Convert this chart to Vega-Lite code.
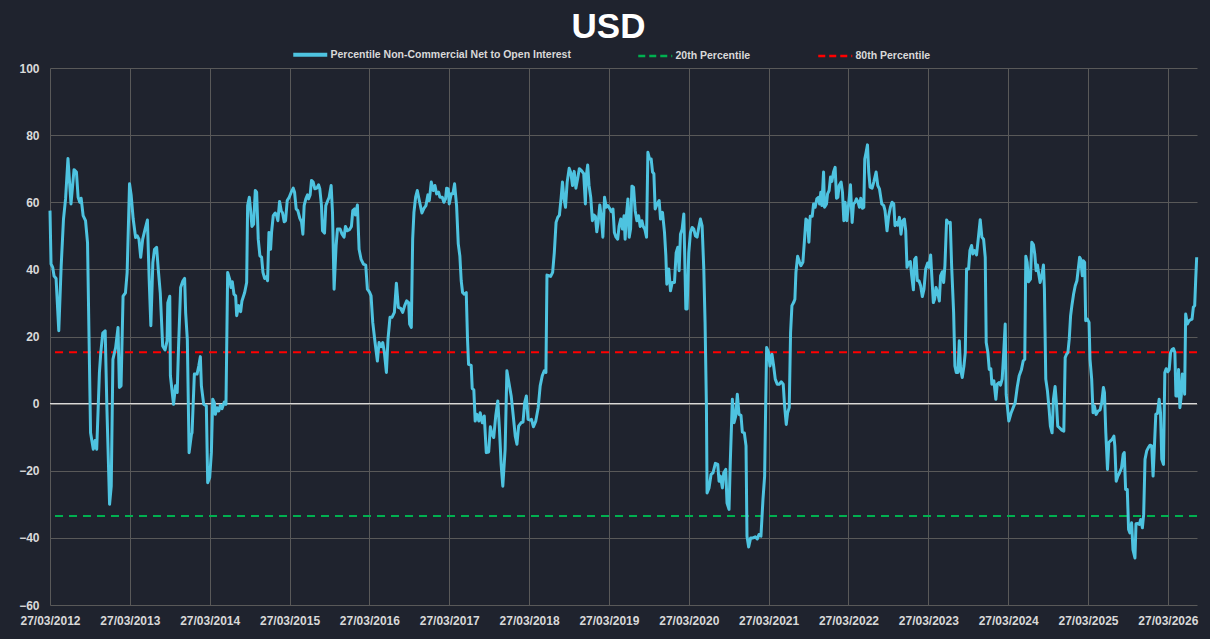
{
  "$schema": "https://vega.github.io/schema/vega-lite/v6.json",
  "width": 1147,
  "height": 537,
  "autosize": {"type": "none"},
  "padding": {"left": 50, "top": 68, "right": 13, "bottom": 34},
  "background": "#1f232e",
  "config": {"view": {"stroke": null}, "font": "Liberation Sans"},
  "title": {
    "text": "USD",
    "font": "Liberation Sans",
    "fontSize": 35,
    "fontWeight": "bold",
    "color": "#ffffff",
    "anchor": "middle",
    "frame": "group",
    "offset": 2,
    "dy": -2,
    "dx": -15
  },
  "datasets": {
    "bands": [
      {"s": "20th Percentile", "v": -33.5},
      {"s": "80th Percentile", "v": 15.3}
    ],
    "cot": [
      {"t":2012.000,"v":57.5},{"t":2012.013,"v":41.6},{"t":2012.034,"v":40.6},{"t":2012.051,"v":38},{"t":2012.076,"v":37.3},
      {"t":2012.110,"v":21.7},{"t":2012.140,"v":41},{"t":2012.169,"v":55},{"t":2012.195,"v":61},{"t":2012.225,"v":73},
      {"t":2012.263,"v":59.5},{"t":2012.301,"v":69.7},{"t":2012.331,"v":69},{"t":2012.352,"v":61.5},{"t":2012.373,"v":60},
      {"t":2012.390,"v":61.2},{"t":2012.415,"v":56},{"t":2012.445,"v":54.5},{"t":2012.470,"v":48},{"t":2012.492,"v":15},
      {"t":2012.508,"v":-8.7},{"t":2012.542,"v":-13.6},{"t":2012.564,"v":-11},{"t":2012.585,"v":-13.6},{"t":2012.619,"v":9.3},
      {"t":2012.636,"v":15.2},{"t":2012.661,"v":21},{"t":2012.691,"v":21.7},{"t":2012.712,"v":-0.7},{"t":2012.746,"v":-30},
      {"t":2012.767,"v":-24.6},{"t":2012.788,"v":13.2},{"t":2012.822,"v":16.7},{"t":2012.852,"v":22.7},{"t":2012.869,"v":4.8},
      {"t":2012.890,"v":5.3},{"t":2012.915,"v":32},{"t":2012.945,"v":33},{"t":2012.966,"v":39},{"t":2012.996,"v":65.5},
      {"t":2013.017,"v":62},{"t":2013.042,"v":55},{"t":2013.072,"v":49.5},{"t":2013.093,"v":50},{"t":2013.114,"v":49},
      {"t":2013.136,"v":43.6},{"t":2013.161,"v":49},{"t":2013.191,"v":52},{"t":2013.220,"v":54.7},{"t":2013.242,"v":37},
      {"t":2013.263,"v":23.2},{"t":2013.288,"v":42},{"t":2013.309,"v":46},{"t":2013.335,"v":46.6},{"t":2013.356,"v":40},
      {"t":2013.381,"v":33},{"t":2013.411,"v":17.2},{"t":2013.441,"v":16},{"t":2013.466,"v":18.7},{"t":2013.475,"v":30},
      {"t":2013.500,"v":32},{"t":2013.508,"v":8.3},{"t":2013.547,"v":-0.2},{"t":2013.572,"v":5.3},{"t":2013.593,"v":3.3},
      {"t":2013.610,"v":17},{"t":2013.636,"v":34.6},{"t":2013.665,"v":36.6},{"t":2013.686,"v":37.3},{"t":2013.699,"v":27},
      {"t":2013.720,"v":19},{"t":2013.742,"v":-14.6},{"t":2013.771,"v":-9.2},{"t":2013.779,"v":-8.7},{"t":2013.808,"v":8.8},
      {"t":2013.842,"v":8.8},{"t":2013.863,"v":11.2},{"t":2013.883,"v":14},{"t":2013.896,"v":5.3},{"t":2013.925,"v":-0.2},
      {"t":2013.958,"v":-0.7},{"t":2013.975,"v":-23.6},{"t":2014.000,"v":-22},{"t":2014.021,"v":-14.6},{"t":2014.038,"v":1.3},
      {"t":2014.058,"v":0.3},{"t":2014.071,"v":-3.2},{"t":2014.092,"v":-1.2},{"t":2014.113,"v":-2.2},{"t":2014.133,"v":-0.5},
      {"t":2014.154,"v":-1.5},{"t":2014.183,"v":0.5},{"t":2014.204,"v":-0.2},{"t":2014.225,"v":39.1},{"t":2014.250,"v":37.1},
      {"t":2014.267,"v":34.6},{"t":2014.283,"v":36.3},{"t":2014.304,"v":32.6},{"t":2014.325,"v":32.1},{"t":2014.338,"v":26.2},
      {"t":2014.363,"v":29.2},{"t":2014.388,"v":27.4},{"t":2014.404,"v":30.6},{"t":2014.438,"v":33.1},{"t":2014.463,"v":36.1},
      {"t":2014.475,"v":59},{"t":2014.496,"v":61.5},{"t":2014.513,"v":57.5},{"t":2014.529,"v":52.8},{"t":2014.550,"v":53.5},
      {"t":2014.571,"v":63.5},{"t":2014.588,"v":63},{"t":2014.608,"v":49},{"t":2014.629,"v":44},{"t":2014.650,"v":43.6},
      {"t":2014.667,"v":39.1},{"t":2014.688,"v":37.3},{"t":2014.708,"v":37.8},{"t":2014.725,"v":36.6},{"t":2014.742,"v":51},
      {"t":2014.763,"v":46},{"t":2014.775,"v":51},{"t":2014.796,"v":56},{"t":2014.821,"v":56.8},{"t":2014.838,"v":56},
      {"t":2014.854,"v":54.5},{"t":2014.875,"v":60.2},{"t":2014.896,"v":57.5},{"t":2014.913,"v":56.8},{"t":2014.933,"v":54.2},
      {"t":2014.950,"v":54.5},{"t":2014.971,"v":60.5},{"t":2014.996,"v":61.5},{"t":2015.021,"v":63},{"t":2015.046,"v":64.2},
      {"t":2015.063,"v":63},{"t":2015.083,"v":58},{"t":2015.104,"v":57.5},{"t":2015.129,"v":55.2},{"t":2015.150,"v":54.2},
      {"t":2015.167,"v":50.5},{"t":2015.183,"v":59},{"t":2015.204,"v":61},{"t":2015.225,"v":62.2},{"t":2015.238,"v":61},
      {"t":2015.258,"v":62.2},{"t":2015.275,"v":66.5},{"t":2015.296,"v":66},{"t":2015.317,"v":64},{"t":2015.342,"v":64.2},
      {"t":2015.363,"v":65.2},{"t":2015.379,"v":64},{"t":2015.400,"v":59},{"t":2015.413,"v":51.5},{"t":2015.438,"v":50.8},
      {"t":2015.454,"v":59},{"t":2015.479,"v":60.5},{"t":2015.496,"v":61.5},{"t":2015.521,"v":65},{"t":2015.538,"v":57},
      {"t":2015.558,"v":34.1},{"t":2015.583,"v":47},{"t":2015.600,"v":52},{"t":2015.633,"v":52},{"t":2015.658,"v":50.5},
      {"t":2015.683,"v":49.6},{"t":2015.700,"v":52.8},{"t":2015.725,"v":51.5},{"t":2015.750,"v":51.8},{"t":2015.775,"v":52.8},
      {"t":2015.792,"v":57.5},{"t":2015.813,"v":58},{"t":2015.825,"v":56.2},{"t":2015.850,"v":59.2},{"t":2015.871,"v":46},
      {"t":2015.896,"v":43},{"t":2015.925,"v":41.6},{"t":2015.954,"v":41.3},{"t":2015.975,"v":34.1},{"t":2016.000,"v":33.3},
      {"t":2016.021,"v":32.1},{"t":2016.042,"v":24.2},{"t":2016.071,"v":18.2},{"t":2016.100,"v":12.7},{"t":2016.121,"v":18.2},
      {"t":2016.146,"v":17},{"t":2016.167,"v":18.2},{"t":2016.188,"v":15.2},{"t":2016.213,"v":9.3},{"t":2016.233,"v":19.2},
      {"t":2016.258,"v":25.7},{"t":2016.283,"v":25.7},{"t":2016.313,"v":27.2},{"t":2016.338,"v":35.9},{"t":2016.363,"v":28.7},
      {"t":2016.392,"v":28.4},{"t":2016.417,"v":27.2},{"t":2016.442,"v":29.2},{"t":2016.467,"v":30.6},{"t":2016.492,"v":30.1},
      {"t":2016.504,"v":23.7},{"t":2016.525,"v":22.7},{"t":2016.542,"v":49},{"t":2016.558,"v":57},{"t":2016.579,"v":61.5},
      {"t":2016.600,"v":63.5},{"t":2016.625,"v":60.5},{"t":2016.658,"v":56.8},{"t":2016.683,"v":58.2},{"t":2016.708,"v":59},
      {"t":2016.733,"v":62.2},{"t":2016.750,"v":60.5},{"t":2016.775,"v":66},{"t":2016.800,"v":63.5},{"t":2016.821,"v":65},
      {"t":2016.842,"v":62.5},{"t":2016.867,"v":63},{"t":2016.883,"v":61.5},{"t":2016.913,"v":61.5},{"t":2016.933,"v":60},
      {"t":2016.954,"v":61},{"t":2016.967,"v":64.2},{"t":2016.988,"v":64},{"t":2017.000,"v":59.5},{"t":2017.025,"v":62.5},
      {"t":2017.046,"v":62.5},{"t":2017.067,"v":65.5},{"t":2017.092,"v":59},{"t":2017.113,"v":47.6},{"t":2017.133,"v":44},
      {"t":2017.150,"v":36.6},{"t":2017.167,"v":33.1},{"t":2017.188,"v":32.6},{"t":2017.213,"v":33.1},{"t":2017.229,"v":19.2},
      {"t":2017.242,"v":11.7},{"t":2017.275,"v":11.4},{"t":2017.288,"v":4.5},{"t":2017.308,"v":4.1},{"t":2017.325,"v":-5.2},
      {"t":2017.346,"v":-3.2},{"t":2017.371,"v":-5.2},{"t":2017.388,"v":-2.7},{"t":2017.414,"v":-5.7},{"t":2017.439,"v":-3.7},
      {"t":2017.464,"v":-14.6},{"t":2017.494,"v":-14.4},{"t":2017.515,"v":-6.9},{"t":2017.536,"v":-9.2},{"t":2017.557,"v":-10.1},
      {"t":2017.582,"v":-3.7},{"t":2017.608,"v":0.8},{"t":2017.629,"v":-7.7},{"t":2017.650,"v":-18.1},{"t":2017.671,"v":-24.6},
      {"t":2017.700,"v":-13.6},{"t":2017.722,"v":9.8},{"t":2017.743,"v":6.8},{"t":2017.776,"v":2.3},{"t":2017.802,"v":-3.7},
      {"t":2017.827,"v":-9.7},{"t":2017.848,"v":-12.1},{"t":2017.869,"v":-6.7},{"t":2017.899,"v":-5.7},{"t":2017.924,"v":-5.5},
      {"t":2017.945,"v":0.3},{"t":2017.966,"v":2.3},{"t":2017.987,"v":-4.7},{"t":2018.013,"v":-4.9},{"t":2018.030,"v":-4.7},
      {"t":2018.055,"v":-6.9},{"t":2018.084,"v":-5.2},{"t":2018.114,"v":-1.2},{"t":2018.139,"v":5.3},{"t":2018.165,"v":8.3},
      {"t":2018.190,"v":9.8},{"t":2018.211,"v":9.3},{"t":2018.224,"v":38.3},{"t":2018.249,"v":38.1},{"t":2018.270,"v":37.9},
      {"t":2018.295,"v":39.1},{"t":2018.316,"v":45},{"t":2018.338,"v":54},{"t":2018.359,"v":55.5},{"t":2018.380,"v":56.2},
      {"t":2018.401,"v":61.2},{"t":2018.418,"v":66},{"t":2018.435,"v":61.5},{"t":2018.456,"v":58.5},{"t":2018.477,"v":66},
      {"t":2018.502,"v":70.1},{"t":2018.523,"v":68.8},{"t":2018.544,"v":65},{"t":2018.565,"v":69.2},{"t":2018.586,"v":64.2},
      {"t":2018.608,"v":67},{"t":2018.629,"v":70},{"t":2018.654,"v":69.5},{"t":2018.684,"v":68.5},{"t":2018.705,"v":59.5},
      {"t":2018.717,"v":68},{"t":2018.734,"v":71.1},{"t":2018.751,"v":65},{"t":2018.772,"v":61.5},{"t":2018.793,"v":54.5},
      {"t":2018.810,"v":56.2},{"t":2018.831,"v":55.8},{"t":2018.848,"v":51.2},{"t":2018.865,"v":54},{"t":2018.886,"v":59.2},
      {"t":2018.907,"v":55},{"t":2018.924,"v":49.6},{"t":2018.945,"v":61.5},{"t":2018.966,"v":58.5},{"t":2018.987,"v":59},
      {"t":2019.008,"v":58.2},{"t":2019.030,"v":57.2},{"t":2019.051,"v":58},{"t":2019.068,"v":51},{"t":2019.089,"v":49.6},
      {"t":2019.110,"v":49},{"t":2019.127,"v":52.8},{"t":2019.148,"v":55},{"t":2019.169,"v":52},{"t":2019.190,"v":56},
      {"t":2019.203,"v":49},{"t":2019.217,"v":55.5},{"t":2019.238,"v":61},{"t":2019.254,"v":49.6},{"t":2019.271,"v":52},
      {"t":2019.288,"v":64.8},{"t":2019.308,"v":64.5},{"t":2019.329,"v":57.5},{"t":2019.350,"v":54.5},{"t":2019.371,"v":56},
      {"t":2019.392,"v":52.8},{"t":2019.413,"v":54.5},{"t":2019.429,"v":52.8},{"t":2019.450,"v":52},{"t":2019.471,"v":49.6},
      {"t":2019.488,"v":74.9},{"t":2019.508,"v":72.9},{"t":2019.529,"v":72.9},{"t":2019.546,"v":69},{"t":2019.563,"v":68.5},
      {"t":2019.579,"v":58},{"t":2019.604,"v":59.5},{"t":2019.629,"v":60.5},{"t":2019.646,"v":55},{"t":2019.671,"v":57},
      {"t":2019.696,"v":51},{"t":2019.713,"v":44},{"t":2019.725,"v":35.6},{"t":2019.750,"v":40.1},{"t":2019.771,"v":33.6},
      {"t":2019.792,"v":36.1},{"t":2019.821,"v":36.1},{"t":2019.842,"v":45},{"t":2019.863,"v":46.6},{"t":2019.879,"v":39.6},
      {"t":2019.896,"v":50.5},{"t":2019.917,"v":52},{"t":2019.938,"v":56.5},{"t":2019.963,"v":28.2},{"t":2019.979,"v":28.2},
      {"t":2020.000,"v":45},{"t":2020.021,"v":51},{"t":2020.042,"v":52.5},{"t":2020.063,"v":52},{"t":2020.083,"v":50},
      {"t":2020.104,"v":49.6},{"t":2020.125,"v":52.5},{"t":2020.146,"v":55},{"t":2020.167,"v":53},{"t":2020.188,"v":40.1},
      {"t":2020.204,"v":24.2},{"t":2020.221,"v":-0.7},{"t":2020.229,"v":-26.6},{"t":2020.254,"v":-25.1},{"t":2020.279,"v":-21.1},
      {"t":2020.304,"v":-20.6},{"t":2020.333,"v":-17.8},{"t":2020.363,"v":-18.1},{"t":2020.379,"v":-23.1},{"t":2020.396,"v":-21.6},
      {"t":2020.421,"v":-25.1},{"t":2020.438,"v":-20.6},{"t":2020.463,"v":-19.6},{"t":2020.479,"v":-29.6},{"t":2020.504,"v":-31.5},
      {"t":2020.521,"v":-16.6},{"t":2020.546,"v":1.3},{"t":2020.567,"v":-5.7},{"t":2020.588,"v":-3.7},{"t":2020.608,"v":2.8},
      {"t":2020.629,"v":-3.2},{"t":2020.654,"v":-3.5},{"t":2020.671,"v":-8.5},{"t":2020.696,"v":-8.7},{"t":2020.717,"v":-12.6},
      {"t":2020.729,"v":-39.5},{"t":2020.750,"v":-42.7},{"t":2020.775,"v":-40},{"t":2020.804,"v":-40},{"t":2020.833,"v":-39.7},
      {"t":2020.858,"v":-40.3},{"t":2020.879,"v":-39},{"t":2020.904,"v":-39.5},{"t":2020.929,"v":-28.6},{"t":2020.950,"v":-21.6},
      {"t":2020.963,"v":-0.7},{"t":2020.975,"v":16.7},{"t":2021.000,"v":15.2},{"t":2021.017,"v":11.2},{"t":2021.042,"v":14.7},
      {"t":2021.063,"v":11.2},{"t":2021.083,"v":7.3},{"t":2021.108,"v":5.8},{"t":2021.133,"v":5.8},{"t":2021.158,"v":6.5},
      {"t":2021.183,"v":5.8},{"t":2021.200,"v":-0.7},{"t":2021.221,"v":-6.2},{"t":2021.238,"v":-2.7},{"t":2021.258,"v":-1.2},
      {"t":2021.275,"v":21.2},{"t":2021.292,"v":29.2},{"t":2021.313,"v":30.1},{"t":2021.329,"v":31.1},{"t":2021.342,"v":39.1},
      {"t":2021.363,"v":43.9},{"t":2021.388,"v":42.1},{"t":2021.404,"v":41.1},{"t":2021.429,"v":42.1},{"t":2021.450,"v":49},
      {"t":2021.467,"v":55},{"t":2021.488,"v":54.5},{"t":2021.504,"v":48.1},{"t":2021.521,"v":55.8},{"t":2021.546,"v":55.8},
      {"t":2021.563,"v":59.5},{"t":2021.583,"v":58.5},{"t":2021.604,"v":61},{"t":2021.625,"v":61.5},{"t":2021.638,"v":59.5},
      {"t":2021.654,"v":63},{"t":2021.667,"v":59},{"t":2021.688,"v":69},{"t":2021.700,"v":58.5},{"t":2021.725,"v":59.5},
      {"t":2021.738,"v":62.5},{"t":2021.758,"v":63.5},{"t":2021.775,"v":67.5},{"t":2021.792,"v":66.2},{"t":2021.813,"v":69},
      {"t":2021.833,"v":70.4},{"t":2021.850,"v":61.2},{"t":2021.867,"v":61.5},{"t":2021.883,"v":65},{"t":2021.908,"v":66},
      {"t":2021.925,"v":63},{"t":2021.942,"v":54.5},{"t":2021.958,"v":60},{"t":2021.979,"v":54.5},{"t":2022.000,"v":59},
      {"t":2022.025,"v":65.2},{"t":2022.046,"v":54},{"t":2022.063,"v":59.5},{"t":2022.083,"v":60},{"t":2022.100,"v":61},
      {"t":2022.121,"v":60},{"t":2022.138,"v":58.5},{"t":2022.154,"v":61.2},{"t":2022.175,"v":58.2},{"t":2022.192,"v":58.5},
      {"t":2022.204,"v":72.9},{"t":2022.221,"v":74.9},{"t":2022.238,"v":77.1},{"t":2022.254,"v":69},{"t":2022.271,"v":64.5},
      {"t":2022.296,"v":64.2},{"t":2022.317,"v":66},{"t":2022.346,"v":69},{"t":2022.367,"v":65},{"t":2022.388,"v":64},
      {"t":2022.417,"v":59.5},{"t":2022.442,"v":59},{"t":2022.458,"v":57.5},{"t":2022.483,"v":51.5},{"t":2022.504,"v":56},
      {"t":2022.525,"v":58.5},{"t":2022.546,"v":60},{"t":2022.567,"v":59.5},{"t":2022.583,"v":53},{"t":2022.600,"v":54},
      {"t":2022.617,"v":53.2},{"t":2022.638,"v":55.5},{"t":2022.658,"v":50.5},{"t":2022.679,"v":54.5},{"t":2022.700,"v":55},
      {"t":2022.717,"v":51.5},{"t":2022.733,"v":40.6},{"t":2022.754,"v":42.1},{"t":2022.775,"v":42.3},{"t":2022.792,"v":38.1},
      {"t":2022.813,"v":33.9},{"t":2022.829,"v":43},{"t":2022.846,"v":43.6},{"t":2022.863,"v":36.6},{"t":2022.883,"v":36.6},
      {"t":2022.904,"v":35.1},{"t":2022.925,"v":31.9},{"t":2022.946,"v":34.1},{"t":2022.967,"v":40.1},{"t":2022.992,"v":41.9},
      {"t":2023.008,"v":40.6},{"t":2023.029,"v":44.3},{"t":2023.046,"v":37.1},{"t":2023.063,"v":30.1},{"t":2023.079,"v":31.1},
      {"t":2023.096,"v":34.6},{"t":2023.117,"v":33.1},{"t":2023.138,"v":30.6},{"t":2023.154,"v":38.1},{"t":2023.175,"v":39.3},
      {"t":2023.192,"v":36.1},{"t":2023.208,"v":41.1},{"t":2023.229,"v":54.7},{"t":2023.250,"v":53.8},{"t":2023.275,"v":54},
      {"t":2023.292,"v":41.1},{"t":2023.317,"v":27.2},{"t":2023.333,"v":11.2},{"t":2023.350,"v":9.3},{"t":2023.371,"v":9.3},
      {"t":2023.388,"v":18.7},{"t":2023.404,"v":10.2},{"t":2023.425,"v":7.8},{"t":2023.446,"v":11.2},{"t":2023.463,"v":15.2},
      {"t":2023.479,"v":40.1},{"t":2023.504,"v":40.1},{"t":2023.521,"v":45.6},{"t":2023.542,"v":47.1},{"t":2023.558,"v":44.6},
      {"t":2023.579,"v":45.6},{"t":2023.604,"v":44.3},{"t":2023.625,"v":49},{"t":2023.650,"v":54.8},{"t":2023.671,"v":49.6},
      {"t":2023.692,"v":49},{"t":2023.713,"v":43.6},{"t":2023.725,"v":18.2},{"t":2023.746,"v":15.2},{"t":2023.763,"v":10.2},
      {"t":2023.783,"v":10.4},{"t":2023.796,"v":5.8},{"t":2023.821,"v":6.8},{"t":2023.846,"v":1.3},{"t":2023.863,"v":5.8},
      {"t":2023.888,"v":6.3},{"t":2023.904,"v":5.5},{"t":2023.925,"v":7.3},{"t":2023.942,"v":14.2},{"t":2023.963,"v":23.7},
      {"t":2023.975,"v":2.8},{"t":2023.996,"v":-2.2},{"t":2024.008,"v":-5.2},{"t":2024.038,"v":-2.7},{"t":2024.063,"v":-1.2},
      {"t":2024.088,"v":0.3},{"t":2024.113,"v":4.8},{"t":2024.138,"v":8.3},{"t":2024.167,"v":10.2},{"t":2024.188,"v":12.7},
      {"t":2024.208,"v":13.2},{"t":2024.221,"v":43.9},{"t":2024.238,"v":42.1},{"t":2024.254,"v":36.3},{"t":2024.279,"v":37.1},
      {"t":2024.296,"v":48.1},{"t":2024.317,"v":47.3},{"t":2024.333,"v":44.6},{"t":2024.350,"v":39.6},{"t":2024.367,"v":41.3},
      {"t":2024.383,"v":38.6},{"t":2024.400,"v":36.1},{"t":2024.421,"v":38.1},{"t":2024.442,"v":41.3},{"t":2024.454,"v":34.1},
      {"t":2024.471,"v":7.3},{"t":2024.492,"v":3.8},{"t":2024.513,"v":-1.7},{"t":2024.529,"v":-6.7},{"t":2024.550,"v":-8.7},
      {"t":2024.567,"v":1.3},{"t":2024.588,"v":5.1},{"t":2024.604,"v":0.3},{"t":2024.621,"v":-6.7},{"t":2024.642,"v":-7.2},
      {"t":2024.672,"v":-7.9},{"t":2024.697,"v":-8.2},{"t":2024.714,"v":13.7},{"t":2024.731,"v":14.7},{"t":2024.748,"v":15.2},
      {"t":2024.765,"v":19.2},{"t":2024.782,"v":26.2},{"t":2024.798,"v":29.2},{"t":2024.819,"v":32.6},{"t":2024.840,"v":35.1},
      {"t":2024.861,"v":36.6},{"t":2024.878,"v":40.1},{"t":2024.895,"v":43.6},{"t":2024.908,"v":43.1},{"t":2024.929,"v":38.1},
      {"t":2024.941,"v":42.6},{"t":2024.958,"v":42.1},{"t":2024.971,"v":24.7},{"t":2024.992,"v":25.2},{"t":2025.013,"v":24.2},
      {"t":2025.025,"v":13.2},{"t":2025.046,"v":7.3},{"t":2025.063,"v":-2.7},{"t":2025.080,"v":-0.7},{"t":2025.101,"v":-3.2},
      {"t":2025.126,"v":-2.2},{"t":2025.151,"v":-1.9},{"t":2025.172,"v":0.3},{"t":2025.193,"v":4.8},{"t":2025.206,"v":3.3},
      {"t":2025.223,"v":-8.7},{"t":2025.244,"v":-19.6},{"t":2025.261,"v":-11.6},{"t":2025.282,"v":-11.1},{"t":2025.303,"v":-10.6},
      {"t":2025.324,"v":-9.7},{"t":2025.336,"v":-12.6},{"t":2025.353,"v":-23.1},{"t":2025.374,"v":-21.6},{"t":2025.395,"v":-20.6},
      {"t":2025.420,"v":-19.1},{"t":2025.441,"v":-15.1},{"t":2025.454,"v":-14.6},{"t":2025.471,"v":-25.6},{"t":2025.492,"v":-25.6},
      {"t":2025.508,"v":-37.5},{"t":2025.525,"v":-38.5},{"t":2025.546,"v":-35.5},{"t":2025.563,"v":-43.5},{"t":2025.588,"v":-46},
      {"t":2025.601,"v":-35.8},{"t":2025.622,"v":-35.7},{"t":2025.643,"v":-36},{"t":2025.660,"v":-34.5},{"t":2025.681,"v":-37},
      {"t":2025.697,"v":-33},{"t":2025.714,"v":-16.6},{"t":2025.735,"v":-14.1},{"t":2025.756,"v":-13.1},{"t":2025.777,"v":-12.4},
      {"t":2025.798,"v":-12.6},{"t":2025.815,"v":-21.6},{"t":2025.832,"v":-12.6},{"t":2025.849,"v":-3.2},{"t":2025.870,"v":-2.9},
      {"t":2025.891,"v":1.3},{"t":2025.908,"v":-2.7},{"t":2025.924,"v":-16.6},{"t":2025.945,"v":-18.1},{"t":2025.962,"v":9.3},
      {"t":2025.979,"v":10.4},{"t":2026.000,"v":9.5},{"t":2026.017,"v":10.2},{"t":2026.034,"v":15.2},{"t":2026.055,"v":16.2},
      {"t":2026.071,"v":16.4},{"t":2026.088,"v":15.2},{"t":2026.101,"v":2.3},{"t":2026.118,"v":2.3},{"t":2026.134,"v":10.2},
      {"t":2026.151,"v":-1.2},{"t":2026.168,"v":2.3},{"t":2026.181,"v":8.8},{"t":2026.197,"v":8.3},{"t":2026.210,"v":2.8},
      {"t":2026.223,"v":26.7},{"t":2026.244,"v":23.7},{"t":2026.265,"v":24.7},{"t":2026.286,"v":25},{"t":2026.303,"v":25.2},
      {"t":2026.319,"v":28.7},{"t":2026.336,"v":29.2},{"t":2026.349,"v":37.1},{"t":2026.361,"v":43.6}
    ]
  },
  "layer": [
    {
      "data": {"name": "cot"},
      "mark": {"type": "line", "opacity": 0},
      "encoding": {
        "x": {
          "field": "t",
          "type": "quantitative",
          "scale": {"domain": [2012, 2026.365], "nice": false, "zero": false},
          "axis": {
            "values": [2012, 2013, 2014, 2015, 2016, 2017, 2018, 2019, 2020, 2021, 2022, 2023, 2024, 2025, 2026],
            "labelExpr": "'27/03/' + datum.value",
            "title": null,
            "grid": true,
            "gridColor": "#595959",
            "gridWidth": 1,
            "domain": false,
            "ticks": false,
            "tickSize": 0,
            "labelPadding": 10,
            "labelFlush": false,
            "labelOverlap": false,
            "labelColor": "#d9d9d9",
            "labelFontSize": 12,
            "labelFontWeight": "bold"
          }
        },
        "y": {
          "field": "v",
          "type": "quantitative",
          "scale": {"domain": [-60, 100], "nice": false},
          "axis": {
            "values": [-60, -40, -20, 0, 20, 40, 60, 80, 100],
            "title": null,
            "grid": true,
            "gridColor": "#595959",
            "gridWidth": 1,
            "domain": false,
            "ticks": false,
            "tickSize": 0,
            "labelPadding": 11,
            "labelColor": "#d9d9d9",
            "labelFontSize": 12,
            "labelFontWeight": "bold"
          }
        }
      }
    },
    {
      "data": {"values": [{}]},
      "mark": {"type": "rule", "color": "#d9d9d9", "strokeWidth": 1.3},
      "encoding": {"y": {"datum": 0, "type": "quantitative"}}
    },
    {
      "data": {"name": "bands"},
      "mark": {"type": "rule", "strokeDash": [8, 6], "strokeWidth": 2},
      "encoding": {
        "y": {"field": "v", "type": "quantitative"},
        "color": {"field": "s", "type": "nominal", "title": null}
      }
    },
    {
      "data": {"name": "cot"},
      "mark": {"type": "line", "strokeWidth": 3, "strokeJoin": "round"},
      "encoding": {
        "x": {"field": "t", "type": "quantitative"},
        "y": {"field": "v", "type": "quantitative"},
        "color": {
          "datum": "Percentile Non-Commercial Net to Open Interest",
          "type": "nominal",
          "title": null,
          "scale": {
            "domain": ["Percentile Non-Commercial Net to Open Interest", "20th Percentile", "80th Percentile"],
            "range": ["#4ec3e0", "#00b050", "#ff0000"]
          },
          "legend": {
            "orient": "none",
            "legendX": 255,
            "legendY": -19,
            "direction": "horizontal",
            "title": null,
            "symbolType": "stroke",
            "symbolSize": 1156,
            "symbolStrokeWidth": 2.5,
            "labelColor": "#d9d9d9",
            "labelFont": "Liberation Sans",
            "labelFontSize": 10.5,
            "labelFontWeight": "bold",
            "labelOffset": 15,
            "labelLimit": 400,
            "columnPadding": 62,
            "padding": 0,
            "encode": {
              "symbols": {
                "update": {
                  "strokeDash": {"signal": "datum.value == 'Percentile Non-Commercial Net to Open Interest' ? [1, 0] : [7, 4]"},
                  "strokeWidth": {"signal": "datum.value == 'Percentile Non-Commercial Net to Open Interest' ? 4 : 2.5"}
                }
              }
            }
          }
        }
      }
    }
  ]
}
